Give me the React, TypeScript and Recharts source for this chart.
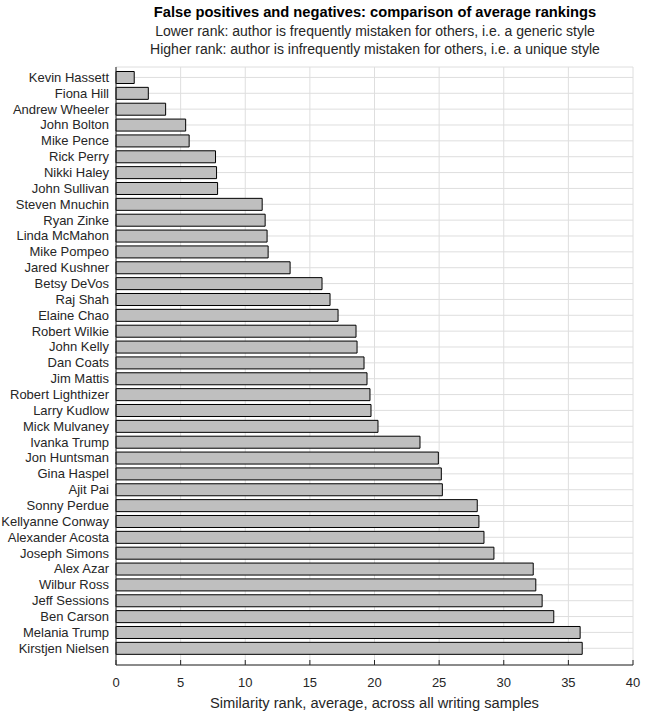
import React from 'react';
import { BarChart, Bar, XAxis, YAxis, CartesianGrid } from 'recharts';

const names = [
  'Kevin Hassett', 'Fiona Hill', 'Andrew Wheeler', 'John Bolton', 'Mike Pence',
  'Rick Perry', 'Nikki Haley', 'John Sullivan', 'Steven Mnuchin', 'Ryan Zinke',
  'Linda McMahon', 'Mike Pompeo', 'Jared Kushner', 'Betsy DeVos', 'Raj Shah',
  'Elaine Chao', 'Robert Wilkie', 'John Kelly', 'Dan Coats', 'Jim Mattis',
  'Robert Lighthizer', 'Larry Kudlow', 'Mick Mulvaney', 'Ivanka Trump', 'Jon Huntsman',
  'Gina Haspel', 'Ajit Pai', 'Sonny Perdue', 'Kellyanne Conway', 'Alexander Acosta',
  'Joseph Simons', 'Alex Azar', 'Wilbur Ross', 'Jeff Sessions', 'Ben Carson',
  'Melania Trump', 'Kirstjen Nielsen',
];

const avgRank = [
  1.41, 2.5, 3.84, 5.39, 5.66,
  7.7, 7.78, 7.86, 11.31, 11.54,
  11.69, 11.77, 13.47, 15.94, 16.56,
  17.18, 18.57, 18.65, 19.19, 19.42,
  19.65, 19.73, 20.27, 23.52, 24.94,
  25.17, 25.25, 27.95, 28.08, 28.47,
  29.24, 32.28, 32.48, 32.97, 33.87,
  35.91, 36.07,
];

const xTicks = [0, 5, 10, 15, 20, 25, 30, 35, 40];

const data = names.map((name, i) => ({ name, value: avgRank[i] }));

const FONT = '"Liberation Sans", Arial, sans-serif';
const TEXT = '#262626';

// MATLAB style ticks: short marks pointing into the plot
const XTick = (props: any) => {
  const { x, y, payload } = props;
  return (
    <g>
      <line x1={x} y1={y} x2={x} y2={y - 5} stroke={TEXT} strokeWidth={1} />
      <text x={x} y={y + 22} textAnchor="middle" fontSize={13} fill={TEXT} fontFamily={FONT}>
        {payload.value}
      </text>
    </g>
  );
};

// single-line category labels (no wrapping)
const YTick = (props: any) => {
  const { x, y, payload } = props;
  return (
    <text x={x} y={y} dy={4.5} textAnchor="end" fontSize={13} fill={TEXT} fontFamily={FONT}>
      {payload.value}
    </text>
  );
};

export default function App() {
  return (
    <div style={{ position: 'absolute', left: 0, top: 0, width: 651, height: 720, background: '#fff', fontFamily: FONT }}>
      <svg width={651} height={66} style={{ position: 'absolute', left: 0, top: 0 }}>
        <text x={375} y={17} textAnchor="middle" fontSize={14.7} fontWeight="bold" fill="#000" fontFamily={FONT}>
          False positives and negatives: comparison of average rankings
        </text>
        <text x={375} y={36} textAnchor="middle" fontSize={14} fill={TEXT} fontFamily={FONT}>
          Lower rank: author is frequently mistaken for others, i.e. a generic style
        </text>
        <text x={375} y={54} textAnchor="middle" fontSize={14} fill={TEXT} fontFamily={FONT}>
          Higher rank: author is infrequently mistaken for others, i.e. a unique style
        </text>
      </svg>
      <div style={{ position: 'absolute', left: 0, top: 0 }}>
        <BarChart
          width={651}
          height={720}
          data={data}
          layout="vertical"
          margin={{ top: 67, right: 18, bottom: 0, left: 0 }}
          barCategoryGap={0}
        >
          <CartesianGrid stroke="#dedede" strokeWidth={1} />
          <XAxis
            type="number"
            domain={[0, 40]}
            ticks={xTicks}
            height={55}
            tickLine={false}
            tickSize={0}
            tickMargin={0}
            axisLine={{ stroke: TEXT }}
            tick={<XTick />}
            interval={0}
            label={{
              value: 'Similarity rank, average, across all writing samples',
              position: 'insideBottom',
              offset: 12,
              fontSize: 14.7,
              fill: TEXT,
              fontFamily: FONT,
            }}
          />
          <YAxis
            type="category"
            dataKey="name"
            width={116}
            tickLine={false}
            tickSize={0}
            tickMargin={7}
            axisLine={{ stroke: TEXT }}
            interval={0}
            padding={{ top: 2.5, bottom: 8.8 }}
            tick={<YTick />}
          />
          <Bar
            dataKey="value"
            fill="#bfbfbf"
            stroke="#000"
            strokeWidth={1}
            barSize={12}
            isAnimationActive={false}
          />
        </BarChart>
      </div>
    </div>
  );
}
